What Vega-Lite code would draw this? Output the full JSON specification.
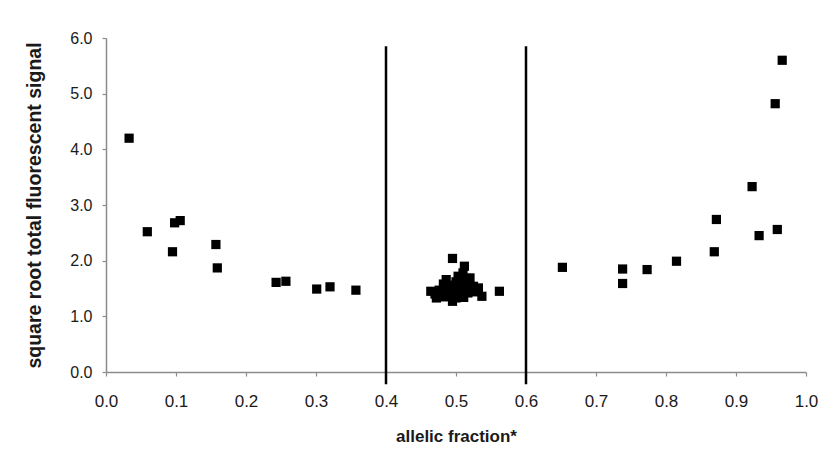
{
  "$schema": "https://vega.github.io/schema/vega-lite/v6.json",
  "width": 700,
  "height": 334,
  "autosize": "none",
  "padding": {"left": 106, "top": 38, "right": 21, "bottom": 98},
  "background": "white",
  "config": {
    "view": {"stroke": null},
    "font": "Liberation Sans",
    "axis": {
      "grid": false,
      "domainColor": "#8c8c8c",
      "tickColor": "#8c8c8c",
      "domainWidth": 1.5,
      "tickWidth": 1.2,
      "tickSize": 4,
      "labelFont": "Liberation Sans",
      "labelFontSize": 16,
      "labelColor": "#1a1a1a",
      "titleFont": "Liberation Sans",
      "titleFontSize": 16.5,
      "titleFontWeight": "bold",
      "titleColor": "#1a1a1a"
    }
  },
  "datasets": {
    "points": [
      {"fraction": 0.033, "signal": 4.20},
      {"fraction": 0.059, "signal": 2.52},
      {"fraction": 0.095, "signal": 2.16},
      {"fraction": 0.098, "signal": 2.68},
      {"fraction": 0.106, "signal": 2.72},
      {"fraction": 0.157, "signal": 2.29},
      {"fraction": 0.159, "signal": 1.87},
      {"fraction": 0.243, "signal": 1.61},
      {"fraction": 0.257, "signal": 1.63},
      {"fraction": 0.301, "signal": 1.49},
      {"fraction": 0.320, "signal": 1.53},
      {"fraction": 0.357, "signal": 1.47},
      {"fraction": 0.464, "signal": 1.45},
      {"fraction": 0.470, "signal": 1.40},
      {"fraction": 0.472, "signal": 1.33},
      {"fraction": 0.476, "signal": 1.47},
      {"fraction": 0.480, "signal": 1.39},
      {"fraction": 0.482, "signal": 1.58},
      {"fraction": 0.484, "signal": 1.35},
      {"fraction": 0.486, "signal": 1.66},
      {"fraction": 0.487, "signal": 1.51},
      {"fraction": 0.490, "signal": 1.42},
      {"fraction": 0.494, "signal": 1.45},
      {"fraction": 0.495, "signal": 2.04},
      {"fraction": 0.495, "signal": 1.27},
      {"fraction": 0.497, "signal": 1.56},
      {"fraction": 0.500, "signal": 1.33},
      {"fraction": 0.500, "signal": 1.62},
      {"fraction": 0.503, "signal": 1.72},
      {"fraction": 0.504, "signal": 1.47},
      {"fraction": 0.506, "signal": 1.51},
      {"fraction": 0.507, "signal": 1.39},
      {"fraction": 0.510, "signal": 1.78},
      {"fraction": 0.510, "signal": 1.60},
      {"fraction": 0.511, "signal": 1.34},
      {"fraction": 0.512, "signal": 1.90},
      {"fraction": 0.514, "signal": 1.68},
      {"fraction": 0.517, "signal": 1.42},
      {"fraction": 0.518, "signal": 1.55},
      {"fraction": 0.520, "signal": 1.69},
      {"fraction": 0.522, "signal": 1.48},
      {"fraction": 0.525, "signal": 1.54},
      {"fraction": 0.528, "signal": 1.44},
      {"fraction": 0.532, "signal": 1.51},
      {"fraction": 0.537, "signal": 1.36},
      {"fraction": 0.562, "signal": 1.45},
      {"fraction": 0.652, "signal": 1.88},
      {"fraction": 0.738, "signal": 1.85},
      {"fraction": 0.738, "signal": 1.59},
      {"fraction": 0.773, "signal": 1.84},
      {"fraction": 0.815, "signal": 1.99},
      {"fraction": 0.869, "signal": 2.16},
      {"fraction": 0.872, "signal": 2.74},
      {"fraction": 0.923, "signal": 3.33},
      {"fraction": 0.933, "signal": 2.45},
      {"fraction": 0.956, "signal": 4.82},
      {"fraction": 0.959, "signal": 2.56},
      {"fraction": 0.966, "signal": 5.60}
    ],
    "cutoffs": [
      {"fraction": 0.4, "low": -0.22, "high": 5.85},
      {"fraction": 0.6, "low": -0.22, "high": 5.85}
    ]
  },
  "layer": [
    {
      "data": {"name": "cutoffs"},
      "mark": {"type": "rule", "color": "#000000", "strokeWidth": 2.5, "clip": false},
      "encoding": {
        "x": {"field": "fraction", "type": "quantitative"},
        "y": {"field": "low", "type": "quantitative"},
        "y2": {"field": "high"}
      }
    },
    {
      "data": {"name": "points"},
      "mark": {"type": "point", "shape": "square", "filled": true, "color": "#000000", "size": 85, "opacity": 1},
      "encoding": {
        "x": {
          "field": "fraction",
          "type": "quantitative",
          "scale": {"domain": [0, 1], "nice": false, "zero": false},
          "axis": {
            "title": "allelic fraction*",
            "values": [0, 0.1, 0.2, 0.3, 0.4, 0.5, 0.6, 0.7, 0.8, 0.9, 1.0],
            "format": ".1f",
            "labelFontSize": 17,
            "labelPadding": 17,
            "titleFontSize": 17,
            "titlePadding": 19,
            "labelFlush": false
          }
        },
        "y": {
          "field": "signal",
          "type": "quantitative",
          "scale": {"domain": [0, 6], "nice": false},
          "axis": {
            "title": "square root total fluorescent signal",
            "values": [0, 1, 2, 3, 4, 5, 6],
            "format": ".1f",
            "labelPadding": 10,
            "titleFontSize": 19.5,
            "titlePadding": 25,
            "labelFlush": false
          }
        }
      }
    }
  ]
}
